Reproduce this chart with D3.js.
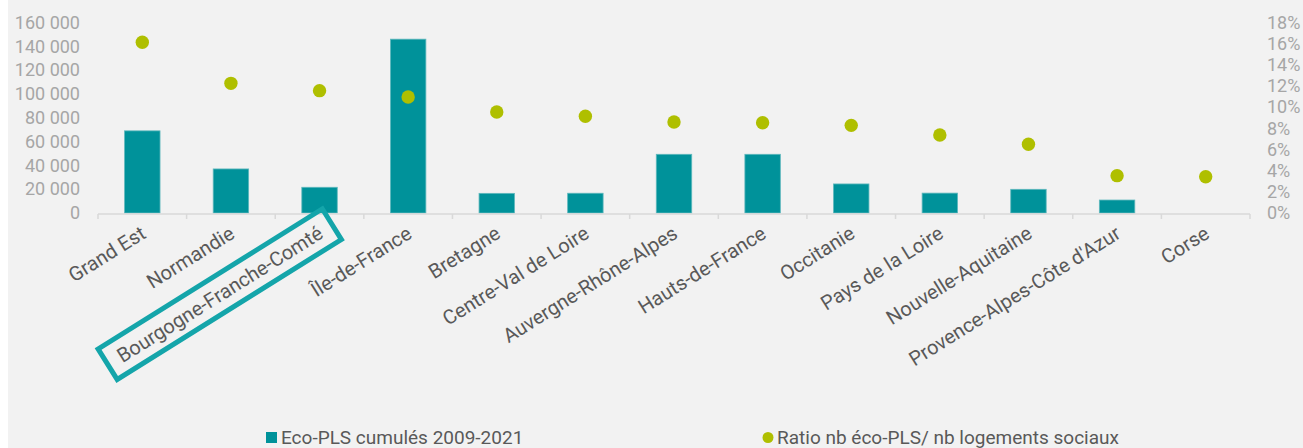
<!DOCTYPE html>
<html>
<head>
<meta charset="utf-8">
<script src="https://cdn.jsdelivr.net/npm/d3@7"></script>
<style>
  html, body { margin: 0; padding: 0; background: #ffffff; }
  svg { display: block; font-family: Roboto, "Noto Sans", sans-serif; }
</style>
</head>
<body>
<svg id="chart" width="1303" height="448"></svg>
<script>
const categories = ["Grand Est", "Normandie", "Bourgogne-Franche-Comté", "Île-de-France", "Bretagne",
  "Centre-Val de Loire", "Auvergne-Rhône-Alpes", "Hauts-de-France", "Occitanie", "Pays de la Loire",
  "Nouvelle-Aquitaine", "Provence-Alpes-Côte d'Azur", "Corse"];
const ecoPLS = [69000, 37000, 21600, 146000, 16500, 16600, 49300, 49300, 24400, 16700, 19900, 10900, 0];
const ratio = [0.1613, 0.1225, 0.1156, 0.1096, 0.0954, 0.0914, 0.0860, 0.0853, 0.0828, 0.0737, 0.0649, 0.0353, 0.0343];
const leftTicks = [0, 20000, 40000, 60000, 80000, 100000, 120000, 140000, 160000];
const rightTicks = [0, 0.02, 0.04, 0.06, 0.08, 0.10, 0.12, 0.14, 0.16, 0.18];
const seriesNames = ["Eco-PLS cumulés 2009-2021", "Ratio nb éco-PLS/ nb logements sociaux"];
const highlighted = "Bourgogne-Franche-Comté";

const barColor = "#00929a";
const dotColor = "#afbf00";
const boxColor = "#14a5aa";
const tickTextColor = "#a6a6a6";
const labelColor = "#595959";

const svg = d3.select("#chart");
svg.append("rect").attr("x", 8).attr("y", 0).attr("width", 1295).attr("height", 448).attr("fill", "#f2f2f2");

const plotLeft = 98, plotRight = 1250, plotTop = 22.5, plotBottom = 213;
const x = d3.scaleBand().domain(categories).range([plotLeft, plotRight]).paddingInner(0.6).paddingOuter(0.3);
const step = x.step();
const yL = d3.scaleLinear().domain([0, 160000]).range([plotBottom, plotTop]);
const yR = d3.scaleLinear().domain([0, 0.18]).range([plotBottom, plotTop]);

const fmtL = d => d3.format(",")(d).replace(/,/g, " ");
const fmtR = d => Math.round(d * 100) + "%";

// left axis
const gL = svg.append("g").attr("transform", `translate(${plotLeft - 4},0)`)
  .call(d3.axisLeft(yL).tickValues(leftTicks).tickFormat(fmtL).tickSize(0).tickPadding(14));
gL.select(".domain").remove();
gL.selectAll("text").attr("fill", tickTextColor).style("font-size", "18px").style("font-family", "Roboto");

// right axis
const gR = svg.append("g").attr("transform", `translate(${plotRight + 4},0)`)
  .call(d3.axisRight(yR).tickValues(rightTicks).tickFormat(fmtR).tickSize(0).tickPadding(13));
gR.select(".domain").remove();
gR.selectAll("text").attr("fill", tickTextColor).style("font-size", "18px").style("font-family", "Roboto");

// bars
svg.append("g").selectAll("rect").data(categories).join("rect")
  .attr("x", d => x(d))
  .attr("width", x.bandwidth())
  .attr("y", (d, i) => yL(ecoPLS[i]))
  .attr("height", (d, i) => plotBottom - yL(ecoPLS[i]))
  .attr("fill", barColor)
  .attr("stroke", "#5fb8bd").attr("stroke-width", 0.8);

// category axis line and boundary ticks
svg.append("line").attr("x1", plotLeft).attr("x2", plotRight).attr("y1", plotBottom + 1).attr("y2", plotBottom + 1)
  .attr("stroke", "#d9d9d9").attr("stroke-width", 1.5);
const bounds = d3.range(categories.length + 1).map(i => plotLeft + i * step);
svg.append("g").selectAll("line").data(bounds).join("line")
  .attr("x1", d => d).attr("x2", d => d).attr("y1", plotBottom + 1).attr("y2", plotBottom + 6)
  .attr("stroke", "#d9d9d9").attr("stroke-width", 1.5);

// category labels
const labelTransform = "translate(5,24) rotate(-32)";
const gX = svg.append("g").attr("transform", `translate(0,${plotBottom})`)
  .call(d3.axisBottom(x).tickSize(0));
gX.select(".domain").remove();
gX.selectAll("text")
  .attr("fill", labelColor).style("font-size", "20px").style("font-family", "Roboto")
  .attr("text-anchor", "end").attr("x", 0).attr("y", 0).attr("dy", 0)
  .attr("transform", labelTransform);

// highlight box
gX.selectAll(".tick").filter(d => d === highlighted).each(function() {
  const t = d3.select(this).select("text");
  const bb = t.node().getBBox();
  const padX = 13, padY = 6;
  d3.select(this).insert("rect", "text")
    .attr("transform", labelTransform)
    .attr("x", bb.x - padX).attr("y", bb.y - padY)
    .attr("width", bb.width + padX * 2).attr("height", bb.height + padY * 2)
    .attr("fill", "none").attr("stroke", boxColor).attr("stroke-width", 5);
});

// dots
svg.append("g").selectAll("circle").data(categories).join("circle")
  .attr("cx", d => x(d) + x.bandwidth() / 2)
  .attr("cy", (d, i) => yR(ratio[i]))
  .attr("r", 6.7)
  .attr("fill", dotColor);

// legend
const lg = svg.append("g").style("font-family", "Roboto").style("font-size", "19px");
lg.append("rect").attr("x", 266).attr("y", 432).attr("width", 11).attr("height", 11).attr("fill", barColor);
lg.append("text").attr("x", 281).attr("y", 444).attr("fill", labelColor).text(seriesNames[0]);
lg.append("circle").attr("cx", 768).attr("cy", 437.5).attr("r", 5.5).attr("fill", dotColor);
lg.append("text").attr("x", 777).attr("y", 444).attr("fill", labelColor).text(seriesNames[1]);
</script>
</body>
</html>
